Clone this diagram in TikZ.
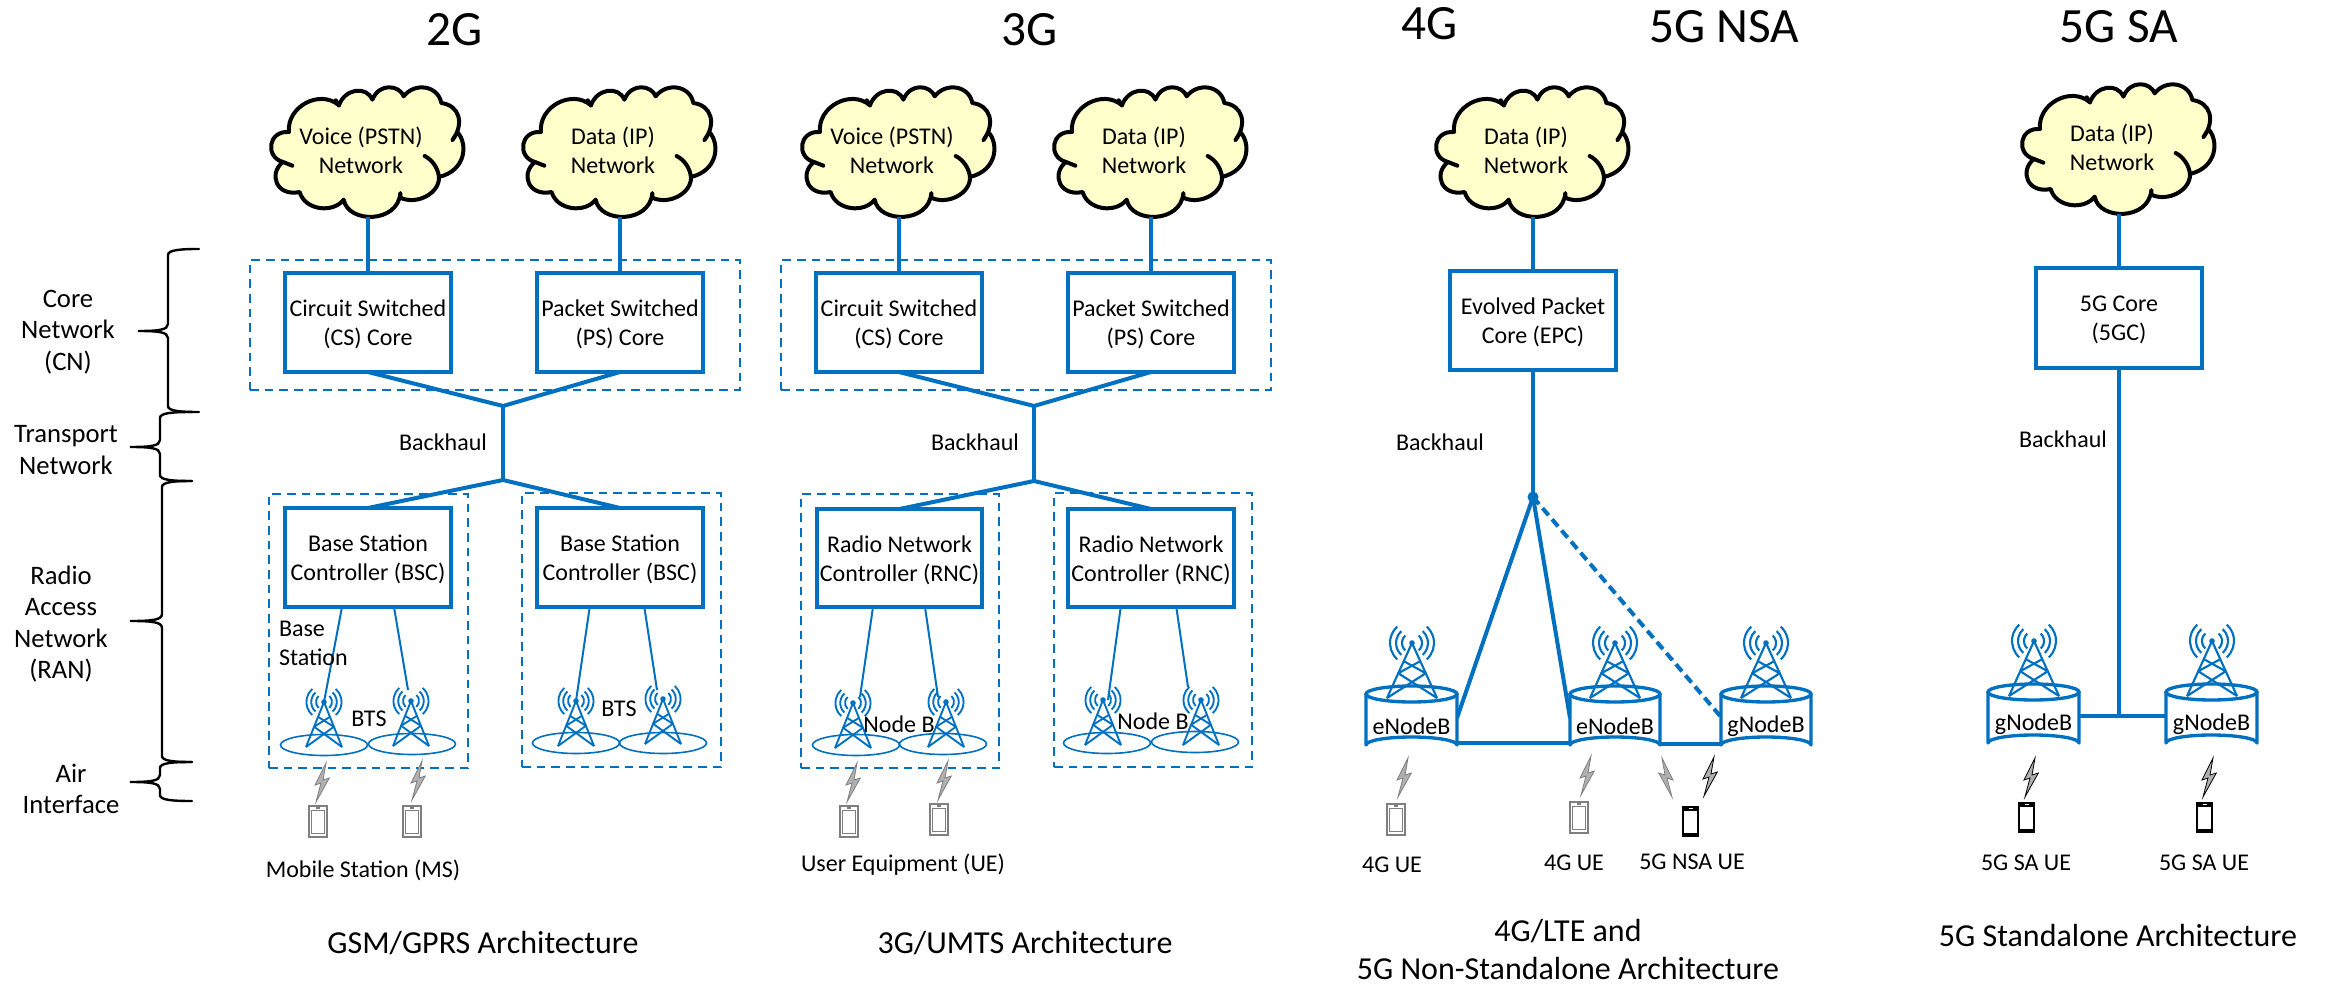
\documentclass[tikz,border=0pt]{standalone}
\usepackage{fontspec}
\setmainfont{Carlito}
\definecolor{netblue}{HTML}{0070C0}
\definecolor{cloudfill}{HTML}{FFFFCC}
\definecolor{boltfill}{HTML}{B0B0B0}
\definecolor{graydk}{HTML}{7F7F7F}
\newcommand\bx[6]{%
  \pgfmathsetmacro\bxw{#5-#3}\pgfmathsetmacro\bxh{#6-#4}%
  \pgfmathsetmacro\bxx{(#5+#3)/2}\pgfmathsetmacro\bxy{(#6+#4)/2}%
  \node[#1,minimum width=\bxw*0.75pt,minimum height=\bxh*0.75pt] (#2) at (\bxx,\bxy) {};}
\newcommand\bxt[6]{%
  \bx{corebox}{#1}{#2}{#3}{#4}{#5}%
  \node[lab,align=center] (#1t) at (#1.center) {#6};}
\newcommand\cloudat[4]{%
  \begin{scope}[shift={(#2,#3)},scale=1/3]
    \path[fill=cloudfill,draw=black,line width=3pt,line join=round]
      (-237,-60) .. controls (-245,-135) and (-145,-190) .. (-87,-140)
      .. controls (-70,-190) and (-5,-200) .. (13,-157)
      .. controls (35,-210) and (95,-200) .. (107,-167)
      .. controls (140,-210) and (210,-200) .. (220,-147)
      .. controls (275,-140) and (290,-85) .. (253,-35)
      -- (268,-60) .. controls (300,-25) and (295,55) .. (213,75)
      .. controls (215,125) and (145,160) .. (97,137)
      -- (97,123) .. controls (90,215) and (-60,215) .. (-73,143)
      .. controls (-105,185) and (-190,175) .. (-205,120)
      .. controls (-275,135) and (-300,65) .. (-255,30)
      .. controls (-310,15) and (-300,-65) .. (-237,-60) -- cycle;
    \draw[line width=3pt,line cap=round] (170,12) .. controls (195,25) and (210,50) .. (213,75);
    \draw[line width=3pt,line cap=round] (-255,30) -- (-227,41);
    \draw[line width=3pt,line cap=round] (-87,-140) -- (-97,-155);
    \coordinate (#1b) at (0,195);
    \node[lab,align=center] (#1) at (-21,-12) {#4};
  \end{scope}}
\newcommand\tower[6]{%
  \begin{scope}[shift={(#1,#2)},netblue,line width=#5,line join=round]
    \fill (0,0) circle[radius=2.8];
    \draw (-#3,#4) -- (0,0) -- (#3,#4);
    \draw (-.33*#3,.33*#4) -- (.55*#3,.55*#4) -- (-#3,#4);
    \draw (.33*#3,.33*#4) -- (-.55*#3,.55*#4) -- (#3,#4);
    \foreach \rr in {1,1.6,2.2}{
      \draw (0,0) ++(132:\rr*#6) arc[start angle=132,end angle=228,radius=\rr*#6];
      \draw (0,0) ++(48:\rr*#6) arc[start angle=48,end angle=-48,radius=\rr*#6];
    }
  \end{scope}}
\newcommand\bolt[4]{%
  \begin{scope}[shift={(#1,#2)},xscale=#3]
    \filldraw[fill=boltfill,draw=#4,line width=.6pt,line join=miter]
      (0,0) -- (-11,22) -- (-5,20) -- (-10,39) -- (3.3,15) -- (-3,17) -- cycle;
  \end{scope}}
\newcommand\phonegray[2]{%
  \begin{scope}[shift={(#1,#2)}]
    \draw[graydk,line width=.8pt,fill=white] (0,0) rectangle (18,31);
    \draw[graydk,line width=.7pt] (2.5,4) rectangle (15.5,27);
    \draw[graydk,line width=.8pt] (7,2) -- (11,2);
  \end{scope}}
\newcommand\phoneblack[2]{%
  \begin{scope}[shift={(#1,#2)}]
    \fill[black] (0,0) rectangle (17,31);
    \fill[white] (2,4.5) rectangle (15,26.5);
    \draw[white,line width=.8pt] (6.5,2.2) -- (10.5,2.2);
  \end{scope}}
\newcommand\can[5]{% name x0 x1 ytop-centre text
  \pgfmathsetmacro\cx{(#2+#3)/2}\pgfmathsetmacro\crx{(#3-#2)/2}%
  \pgfmathsetmacro\cy{#4+51}\pgfmathsetmacro\cty{#4+30}%
  \draw[netblue,line width=2.5pt,fill=white,line join=round]
    (#2,#4) -- (#2,\cy) arc[start angle=180,end angle=360,x radius=\crx,y radius=8] -- (#3,#4);
  \draw[netblue,line width=2.5pt,fill=white] (\cx,#4) ellipse[x radius=\crx,y radius=8];
  \node[lab] (#1) at (\cx,\cty) {#5};}
\newcommand\brc[6]{%
  \draw[black,line width=1.8pt,line cap=round]
    (#4,#5) .. controls (#3+12,#5) and (#3,#5+1) .. (#3,#5+6)
    -- (#3,#2-7) .. controls (#3,#2-1) and (#3-10,#2) .. (#1,#2)
    .. controls (#3-10,#2) and (#3,#2+1) .. (#3,#2+7)
    -- (#3,#6-6) .. controls (#3,#6-1) and (#3+12,#6) .. (#4,#6);}
\tikzset{
  lab/.style={font=\fontsize{18}{21.75}\selectfont,inner sep=0pt,outer sep=0pt,text=black,yshift=-1.5pt},
  side/.style={font=\fontsize{20}{23.6}\selectfont,inner sep=0pt,align=center,text=black,yshift=-1.5pt},
  head/.style={font=\fontsize{37}{37}\selectfont,inner sep=0pt,text=black},
  arch/.style={font=\fontsize{24}{29}\selectfont,inner sep=0pt,align=center,text=black},
  corebox/.style={draw=netblue,line width=3pt,outer sep=0pt,inner sep=0pt,fill=white},
  dashbox/.style={draw=netblue,line width=1.7pt,outer sep=0pt,inner sep=0pt,dash pattern=on 6.5pt off 4.5pt},
  link/.style={draw=netblue,line width=3pt},
  thin link/.style={draw=netblue,line width=1.5pt},
}
\begin{document}
\begin{tikzpicture}[x=0.75pt,y=-0.75pt]
\useasboundingbox (0,0) rectangle (2328,984);
\fill[white] (0,0) rectangle (2328,984);
% headings
\node[head] (h2g) at (455,30) {2G};
\node[head] (h3g) at (1030,30) {3G};
\node[head] (h4g) at (1430,24) {4G};
\node[head] (h5n) at (1724,27) {5G NSA};
\node[head] (h5s) at (2119,27) {5G SA};
% side braces
\brc{138}{331}{168}{199}{249}{412}
\brc{130}{447}{160}{192}{412}{481}
\brc{130}{621}{162}{192}{481}{762}
\brc{130}{782}{160}{192}{762}{801}
\node[side] (scn) at (68,330) {Core\\Network\\(CN)};
\node[side] (stn) at (66,448) {Transport\\Network};
\node[side] (sran) at (61,622) {Radio\\Access\\Network\\(RAN)};
\node[side] (sai) at (71,787) {Air\\Interface};
% ---------- 2G
\bx{dashbox}{d2c}{250}{260}{740}{390}
\bx{dashbox}{d2a}{269}{494}{468}{768}
\bx{dashbox}{d2b}{522}{493}{721}{767}
\cloudat{c2a}{368}{152}{Voice (PSTN)\\Network}
\cloudat{c2b}{620}{152}{Data (IP)\\Network}
\bxt{cs2}{285}{273}{451}{372}{Circuit Switched\\(CS) Core}
\bxt{ps2}{537}{273}{703}{372}{Packet Switched\\(PS) Core}
\bxt{bsc2a}{285}{508}{451}{607}{Base Station\\Controller (BSC)}
\bxt{bsc2b}{537}{508}{703}{607}{Base Station\\Controller (BSC)}
\coordinate (j2u) at (503,406); \coordinate (j2d) at (503,480);
\draw[link] (c2ab) -- (cs2.north);
\draw[link] (c2bb) -- (ps2.north);
\draw[link,line join=miter] (cs2.south) -- (j2u) -- (ps2.south);
\draw[link] (j2u) -- (j2d);
\draw[link,line join=miter] (bsc2a.north) -- (j2d) -- (bsc2b.north);
\foreach \cxa/\cya in {324/745,412/744,576/743,663/743}{\draw[netblue,line width=1.2pt] (\cxa,\cya) ellipse[x radius=43.5,y radius=10.5];}
\tower{324}{702}{18}{45}{1.4pt}{8}
\tower{411}{701}{18}{45}{1.4pt}{8}
\tower{576}{701}{18}{45}{1.4pt}{8}
\tower{663}{699}{18}{45}{1.4pt}{8}
\coordinate (l2a) at (342,607); \coordinate (t2a) at (324,702);
\coordinate (l2b) at (394,607); \coordinate (t2b) at (408,690);
\coordinate (l2c) at (590,605); \coordinate (t2c) at (576,701);
\coordinate (l2d) at (644,605); \coordinate (t2d) at (657,690);
\draw[thin link] (l2a) -- (t2a); \draw[thin link] (l2b) -- (t2b);
\draw[thin link] (l2c) -- (t2c); \draw[thin link] (l2d) -- (t2d);
\bolt{326}{763}{1}{graydk}\bolt{422}{761}{1}{graydk}
\phonegray{309}{806}\phonegray{403}{806}
\node[lab] (bts2a) at (369,717) {BTS};
\node[lab] (bts2b) at (619,707) {BTS};
\node[lab,align=left,anchor=west] (bs2) at (279,641.5) {Base\\Station};
\node[lab] (bh2) at (443,440) {Backhaul};
\node[lab] (ms2) at (363,868) {Mobile Station (MS)};
\node[arch] (a2) at (483,943) {GSM/GPRS Architecture};
% ---------- 3G
\bx{dashbox}{d3c}{781}{260}{1271}{390}
\bx{dashbox}{d3a}{801}{494}{999}{768}
\bx{dashbox}{d3b}{1054}{493}{1252}{767}
\cloudat{c3a}{899}{152}{Voice (PSTN)\\Network}
\cloudat{c3b}{1151}{152}{Data (IP)\\Network}
\bxt{cs3}{816}{273}{982}{372}{Circuit Switched\\(CS) Core}
\bxt{ps3}{1068}{273}{1234}{372}{Packet Switched\\(PS) Core}
\bxt{rnc3a}{817}{509}{982}{607}{Radio Network\\Controller (RNC)}
\bxt{rnc3b}{1068}{509}{1234}{607}{Radio Network\\Controller (RNC)}
\coordinate (j3u) at (1034,406); \coordinate (j3d) at (1034,481);
\draw[link] (c3ab) -- (cs3.north);
\draw[link] (c3bb) -- (ps3.north);
\draw[link,line join=miter] (cs3.south) -- (j3u) -- (ps3.south);
\draw[link] (j3u) -- (j3d);
\draw[link,line join=miter] (rnc3a.north) -- (j3d) -- (rnc3b.north);
\foreach \cxa/\cya in {856/745,943/744,1107/743,1195/742}{\draw[netblue,line width=1.2pt] (\cxa,\cya) ellipse[x radius=43.5,y radius=10.5];}
\tower{853}{703}{18}{45}{1.4pt}{8}
\tower{946}{702}{18}{45}{1.4pt}{8}
\tower{1103}{700}{18}{45}{1.4pt}{8}
\tower{1201}{700}{18}{45}{1.4pt}{8}
\coordinate (l3a) at (873,607); \coordinate (t3a) at (860,697);
\coordinate (l3b) at (925,607); \coordinate (t3b) at (938,697);
\coordinate (l3c) at (1121,605); \coordinate (t3c) at (1108,700);
\coordinate (l3d) at (1176,605); \coordinate (t3d) at (1188,687);
\draw[thin link] (l3a) -- (t3a); \draw[thin link] (l3b) -- (t3b);
\draw[thin link] (l3c) -- (t3c); \draw[thin link] (l3d) -- (t3d);
\bolt{857}{763}{1}{graydk}\bolt{948}{761}{1}{graydk}
\phonegray{840}{806}\phonegray{930}{804}
\node[lab] (nb3a) at (899,722) {Node B};
\node[lab] (nb3b) at (1153,719) {Node B};
\node[lab] (bh3) at (975,440) {Backhaul};
\node[lab] (ue3) at (903,863) {User Equipment (UE)};
\node[arch] (a3) at (1025,943) {3G/UMTS Architecture};
% ---------- 4G / 5G NSA
\cloudat{c4}{1533}{152}{Data (IP)\\Network}
\bxt{epc}{1450}{271}{1616}{370}{Evolved Packet\\Core (EPC)}
\coordinate (j4) at (1533,497);
\coordinate (e1r) at (1457,718); \coordinate (e2l) at (1570,718); \coordinate (g1l) at (1721,717);
\coordinate (e1h) at (1457,743); \coordinate (e2h) at (1570,743);
\coordinate (e2k) at (1660,744); \coordinate (g1h) at (1721,744);
\draw[link] (c4b) -- (epc.north);
\draw[link] (epc.south) -- (j4);
\fill[netblue] (j4) circle[radius=5.5];
\draw[link] (j4) -- (e1r);
\draw[link] (j4) -- (e2l);
\draw[link,dash pattern=on 7pt off 4pt] (j4) -- (g1l);
\draw[link] (e1h) -- (e2h);
\draw[link] (e2k) -- (g1h);
\can{en1}{1366}{1457}{694}{eNodeB}
\can{en2}{1570}{1660}{694}{eNodeB}
\can{gn1}{1721}{1811}{694}{gNodeB}
\tower{1412}{643}{25}{55}{1.6pt}{10}
\tower{1615}{643}{25}{55}{1.6pt}{10}
\tower{1766}{643}{25}{55}{1.6pt}{10}
\bolt{1408}{758}{1}{graydk}\bolt{1591}{756}{1}{graydk}
\bolt{1662}{758}{-1}{graydk}\bolt{1714}{757}{1}{black}
\phonegray{1387}{804}\phonegray{1570}{802}\phoneblack{1682}{806}
\node[lab] (ue4a) at (1392,863) {4G UE};
\node[lab] (ue4b) at (1574,861) {4G UE};
\node[lab] (ue5n) at (1692,860) {5G NSA UE};
\node[lab] (bh4) at (1440,440) {Backhaul};
\node[arch] (a4) at (1568,949.5) {4G/LTE and\\5G Non-Standalone Architecture};
% ---------- 5G SA
\cloudat{c5}{2119}{149}{Data (IP)\\Network}
\bxt{gc5}{2036}{268}{2202}{368}{5G Core\\(5GC)}
\coordinate (j5) at (2119,716);
\coordinate (g2r) at (2079,716); \coordinate (g3l) at (2166,716);
\draw[link] (c5b) -- (gc5.north);
\draw[link] (gc5.south) -- (j5);
\draw[link] (g2r) -- (g3l);
\can{gn2}{1988}{2079}{692}{gNodeB}
\can{gn3}{2166}{2257}{692}{gNodeB}
\tower{2034}{641}{25}{55}{1.6pt}{10}
\tower{2212}{641}{25}{55}{1.6pt}{10}
\bolt{2035}{758}{1}{black}\bolt{2213}{758}{1}{black}
\phoneblack{2018}{802}\phoneblack{2196}{802}
\node[lab] (ue5a) at (2026,861) {5G SA UE};
\node[lab] (ue5b) at (2204,861) {5G SA UE};
\node[lab] (bh5) at (2063,437) {Backhaul};
\node[arch] (a5) at (2118,936) {5G Standalone Architecture};
\end{tikzpicture}
\end{document}
